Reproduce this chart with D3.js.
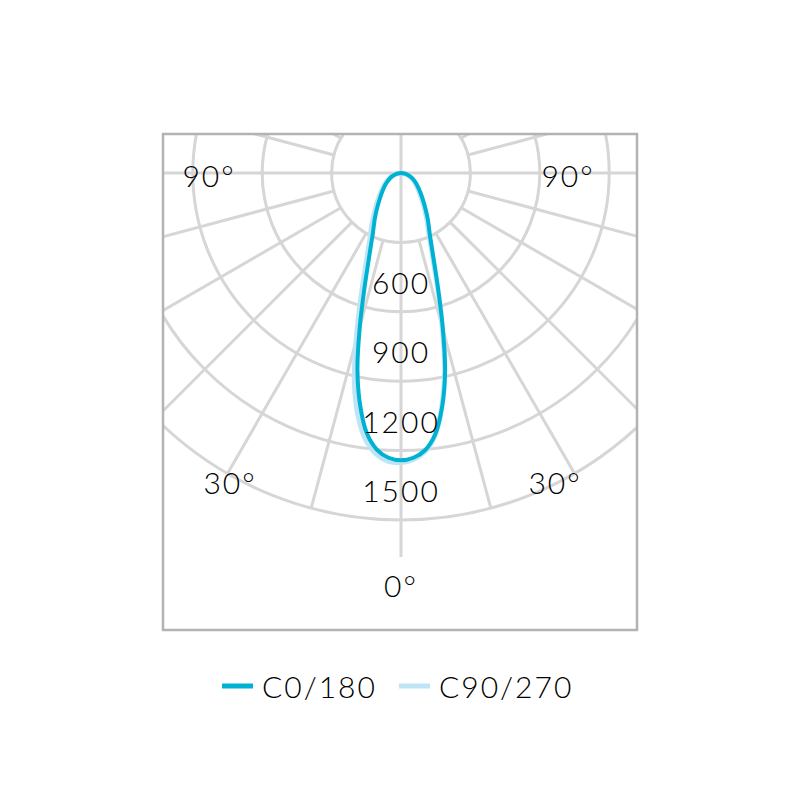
<!DOCTYPE html>
<html><head><meta charset="utf-8">
<script src="https://cdn.jsdelivr.net/npm/d3@7"></script>
<style>body{margin:0;background:#fff}</style></head>
<body>
<svg id="chart" width="801" height="801"></svg>
<script>
// ---- data ----
const angles = [0,2.5,5,7.5,10,12.5,15,17.5,20,22.5,25,30,35,40,45,50,55,60,65,70,75,80,85,90];
const c0   = [1242,1232,1202,1138,1025,880,700,540,425,348,295,232,182,145,118,97,81,66,53,41,29,18,8,0];
const c180 = [1242,1232,1200,1134,1018,870,688,528,415,340,288,226,177,141,115,95,79,64,51,40,28,17,8,0];
const c90  = [1252,1240,1208,1140,1020,872,690,530,412,336,284,220,170,134,109,90,75,61,49,38,27,16,7,0];
const c270 = [1256,1248,1220,1165,1068,930,750,585,462,378,320,250,196,156,127,104,86,70,56,43,31,19,9,0];
const ringValues = [300,600,900,1200,1500];
const ringLabels = ["600","900","1200","1500"];
const ringLabelValues = [600,900,1200,1500];
const spokeAngles = d3.range(0,360,15);
const angleLabelText = ["90°","90°","30°","30°","0°"];
const seriesNames = ["C0/180","C90/270"];
const seriesColors = ["#00b2d1","#bfe4f6"];

// ---- layout ----
const svg = d3.select("#chart");
const cx = 401, cy = 173;
const frame = {x:163, y:134, w:474, h:496};
const r = d3.scaleLinear().domain([0,1500]).range([0,347]);
const gridColor = "#d6d6d6";
const font = "Lato, 'DejaVu Sans', sans-serif";
const textColor = "#000";

svg.append("defs").append("clipPath").attr("id","clip")
  .append("rect").attr("x",frame.x).attr("y",frame.y).attr("width",frame.w).attr("height",frame.h);

const g = svg.append("g").attr("clip-path","url(#clip)");
const pg = g.append("g").attr("transform",`translate(${cx},${cy})`);

// rings
pg.selectAll("circle.ring").data(ringValues).join("circle")
  .attr("class","ring").attr("r",d=>r(d))
  .attr("fill","none").attr("stroke",gridColor).attr("stroke-width",3);

// spokes (angle measured from straight down)
const rad = a => a*Math.PI/180;
const spokeStart = a => a%90===0 ? 0 : r(300);
const spokeEnd = a => a===0 ? r(1660) : (a%90===0 ? r(2000) : r(1500));
pg.selectAll("line.spoke").data(spokeAngles).join("line")
  .attr("class","spoke")
  .attr("x1",a=>spokeStart(a)*Math.sin(rad(a)))
  .attr("y1",a=>spokeStart(a)*Math.cos(rad(a)))
  .attr("x2",a=>spokeEnd(a)*Math.sin(rad(a)))
  .attr("y2",a=>spokeEnd(a)*Math.cos(rad(a)))
  .attr("stroke",gridColor).attr("stroke-width",3);

// curves
function pts(right,left){
  const p=[];
  angles.forEach((a,i)=>p.push([Math.PI - rad(a), r(right[i])]));
  for(let i=angles.length-2;i>=1;i--) p.push([Math.PI + rad(angles[i]), r(left[i])]);
  return p;
}
const line = d3.lineRadial().angle(d=>d[0]).radius(d=>d[1]).curve(d3.curveCatmullRomClosed.alpha(0.5));
pg.append("path").attr("d",line(pts(c90,c270))).attr("fill","none")
  .attr("stroke",seriesColors[1]).attr("stroke-width",5);
pg.append("path").attr("d",line(pts(c0,c180))).attr("fill","none")
  .attr("stroke",seriesColors[0]).attr("stroke-width",4);

// ring labels
pg.selectAll("text.rl").data(ringLabelValues).join("text")
  .attr("class","rl").attr("x",0).attr("y",(d)=>r(d)-18)
  .attr("text-anchor","middle").attr("font-family",font).attr("font-weight",300)
  .attr("font-size",30).attr("letter-spacing",2).attr("fill",textColor)
  .text((d,i)=>ringLabels[i]);

// angle labels
const angleLabelPos = [[209,187],[568,187],[230,494],[555,494],[401,597]];
svg.selectAll("text.al").data(angleLabelText).join("text")
  .attr("class","al").attr("x",(d,i)=>angleLabelPos[i][0]).attr("y",(d,i)=>angleLabelPos[i][1])
  .attr("text-anchor","middle").attr("font-family",font).attr("font-weight",300)
  .attr("font-size",30).attr("letter-spacing",2).attr("fill",textColor).text(d=>d);

// frame
svg.append("rect").attr("x",frame.x).attr("y",frame.y).attr("width",frame.w).attr("height",frame.h)
  .attr("fill","none").attr("stroke","#b3b3b3").attr("stroke-width",2.5);

// legend
const legendX = [222,399];
const lg = svg.selectAll("g.lg").data(seriesNames).join("g").attr("class","lg")
  .attr("transform",(d,i)=>`translate(${legendX[i]},686)`);
lg.append("line").attr("x1",0).attr("x2",31).attr("y1",0).attr("y2",0)
  .attr("stroke",(d,i)=>seriesColors[i]).attr("stroke-width",5);
lg.append("text").attr("x",40).attr("y",12).attr("font-family",font).attr("font-weight",300)
  .attr("font-size",30).attr("letter-spacing",2).attr("fill",textColor).text(d=>d);
</script>
</body></html>
